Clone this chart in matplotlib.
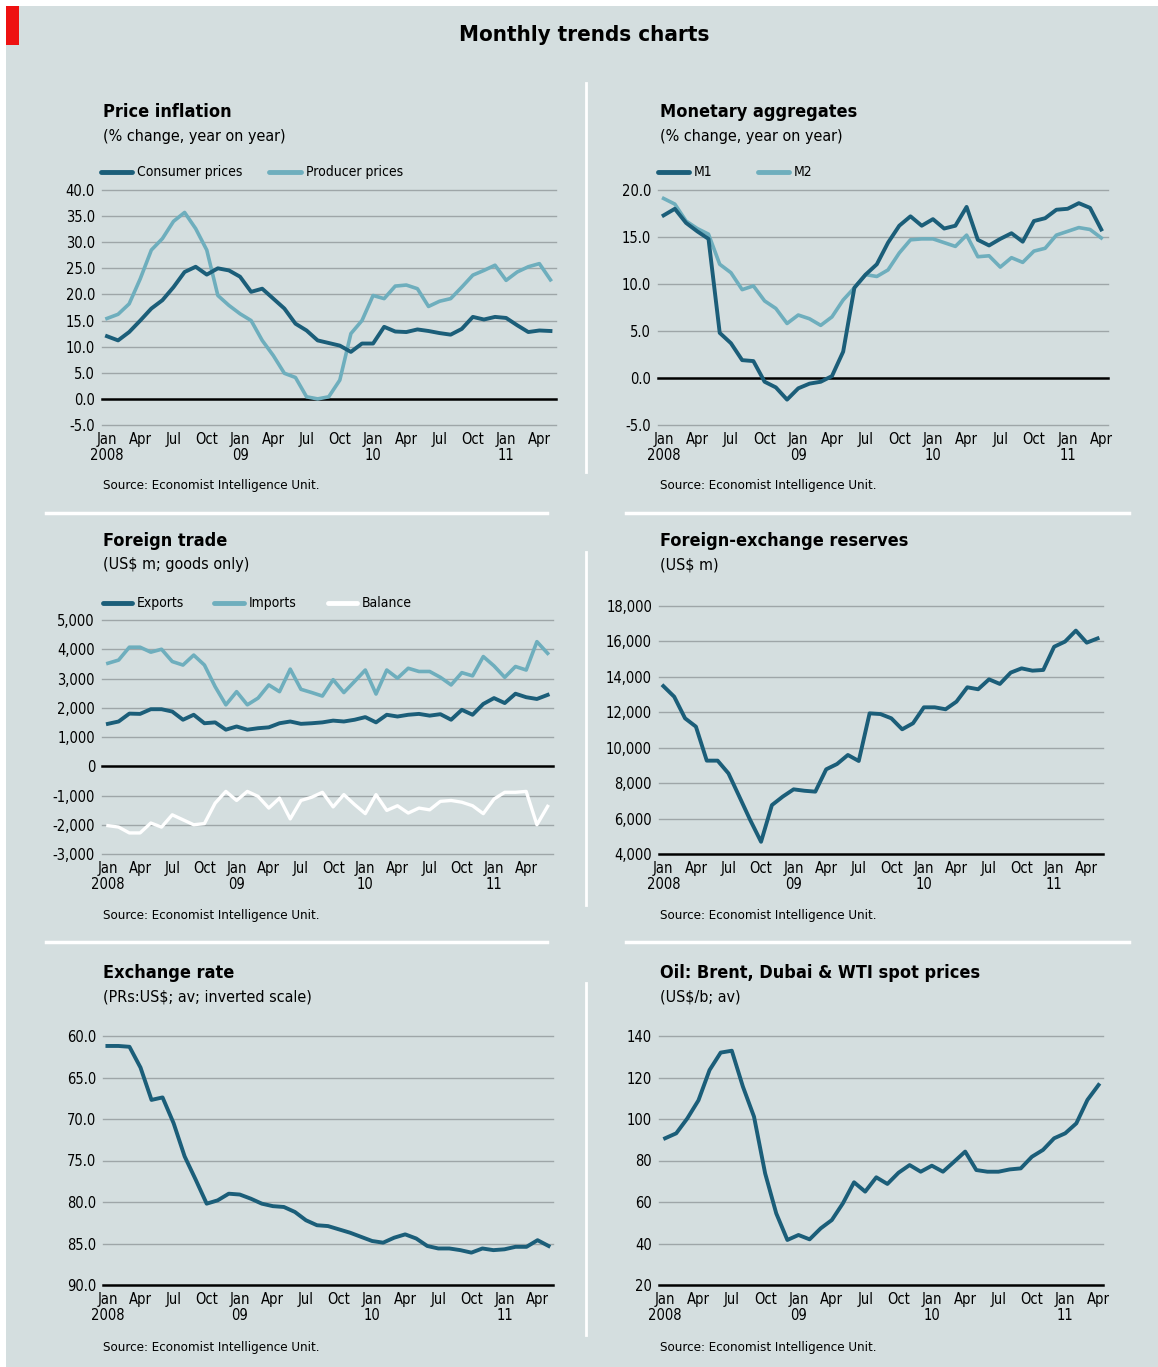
import matplotlib
matplotlib.use("Agg")
import matplotlib.pyplot as plt
from matplotlib.lines import Line2D
from matplotlib.patches import Rectangle
from matplotlib import font_manager

W, H = 1158, 1367

# ---- data (monthly, Jan 2008 onwards) ----
consumer_prices = [12.0, 11.2, 12.8, 15.0, 17.3, 18.9, 21.4, 24.3, 25.3, 23.8, 25.0, 24.6,
                   23.4, 20.5, 21.1, 19.2, 17.3, 14.4, 13.1, 11.2, 10.7, 10.2, 9.0, 10.6,
                   10.6, 13.8, 12.9, 12.8, 13.3, 13.0, 12.6, 12.3, 13.4, 15.7, 15.2, 15.7,
                   15.5, 14.1, 12.8, 13.1, 13.0]
producer_prices = [15.4, 16.2, 18.2, 23.0, 28.5, 30.7, 34.0, 35.7, 32.6, 28.5, 19.8, 17.9,
                   16.3, 15.0, 11.2, 8.3, 4.9, 4.1, 0.4, 0.0, 0.4, 3.6, 12.5, 15.0,
                   19.8, 19.2, 21.6, 21.8, 21.1, 17.7, 18.7, 19.2, 21.4, 23.7, 24.6, 25.6,
                   22.7, 24.3, 25.3, 25.9, 22.8]

m1 = [17.3, 18.0, 16.5, 15.6, 14.8, 4.8, 3.7, 1.9, 1.8, -0.4, -1.0, -2.3,
      -1.1, -0.6, -0.4, 0.2, 2.8, 9.6, 11.0, 12.1, 14.4, 16.2, 17.2, 16.2,
      16.9, 15.9, 16.2, 18.2, 14.7, 14.1, 14.8, 15.4, 14.5, 16.7, 17.0, 17.9,
      18.0, 18.6, 18.1, 15.8]
m2 = [19.1, 18.5, 16.7, 15.9, 15.3, 12.1, 11.2, 9.4, 9.8, 8.2, 7.4, 5.8,
      6.7, 6.3, 5.6, 6.5, 8.3, 9.6, 11.0, 10.8, 11.5, 13.3, 14.7, 14.8,
      14.8, 14.4, 14.0, 15.2, 12.9, 13.0, 11.8, 12.8, 12.3, 13.5, 13.8, 15.2,
      15.6, 16.0, 15.8, 14.9]

exports = [1450, 1530, 1800, 1790, 1950, 1950, 1870, 1590, 1760, 1470, 1500, 1250,
           1360, 1250, 1300, 1330, 1470, 1530, 1450, 1470, 1500, 1560, 1530, 1590,
           1680, 1500, 1760, 1700, 1760, 1790, 1730, 1780, 1590, 1930, 1760, 2130,
           2330, 2160, 2480, 2360, 2300, 2440]
imports = [3520, 3630, 4070, 4070, 3900, 4000, 3580, 3460, 3800, 3460, 2720, 2100,
           2550, 2100, 2330, 2780, 2550, 3320, 2630, 2520, 2400, 2960, 2520, 2900,
           3290, 2470, 3290, 3010, 3350, 3240, 3240, 3040, 2780, 3200, 3090, 3750,
           3430, 3040, 3410, 3290, 4260, 3860]
balance = [-2030, -2080, -2280, -2280, -1940, -2080, -1660, -1830, -2000, -1960, -1260, -860,
           -1170, -860, -1030, -1430, -1090, -1800, -1170, -1060, -890, -1390, -970, -1310,
           -1620, -970, -1510, -1350, -1600, -1430, -1490, -1200, -1170, -1230, -1350, -1620,
           -1120, -890, -890, -860, -2000, -1370]

reserves = [13480, 12880, 11660, 11190, 9270, 9270, 8550, 7240, 5920, 4690, 6760, 7240,
            7650, 7570, 7520, 8780, 9080, 9590, 9250, 11940, 11900, 11660, 11040, 11380,
            12280, 12280, 12170, 12600, 13410, 13300, 13860, 13600, 14240, 14480, 14350, 14390,
            15700, 15990, 16610, 15930, 16170]

exchange_rate = [61.2, 61.2, 61.3, 63.8, 67.7, 67.4, 70.5, 74.5, 77.3, 80.2, 79.8, 79.0,
                 79.1, 79.6, 80.2, 80.5, 80.6, 81.2, 82.2, 82.8, 82.9, 83.3, 83.7, 84.2,
                 84.7, 84.9, 84.3, 83.9, 84.4, 85.3, 85.6, 85.6, 85.8, 86.1, 85.6, 85.8,
                 85.7, 85.4, 85.4, 84.6, 85.3]

oil = [90.7, 93.1, 100.3, 109.0, 123.6, 132.0, 132.9, 115.6, 101.1, 73.8, 54.5, 41.7,
       44.1, 42.0, 47.3, 51.3, 59.4, 69.5, 65.0, 71.9, 68.7, 74.1, 77.8, 74.6,
       77.5, 74.6, 79.4, 84.3, 75.4, 74.6, 74.6, 75.7, 76.2, 81.8, 85.1, 90.7,
       93.1, 97.9, 109.2, 116.4]

tick_months = list(range(0, 40, 3))
tick_labels = ["Jan\n2008", "Apr", "Jul", "Oct", "Jan\n09", "Apr", "Jul", "Oct",
               "Jan\n10", "Apr", "Jul", "Oct", "Jan\n11", "Apr"]

DARK = "#1b5e79"
LIGHT = "#6eaebd"
BG = "#d4dedf"
GRID = "#9ea6a8"

# a condensed face is closer to the original type, use it when it exists
fonts = font_manager.fontManager.ttflist
condensed = any(f.name == "DejaVu Sans" and "condensed" in str(f.stretch) for f in fonts)
plt.rcParams["font.family"] = ["DejaVu Sans"]
if condensed:
    plt.rcParams["font.stretch"] = "condensed"
    k = 1.0
else:
    k = 0.9

fig = plt.figure(figsize=(W / 100, H / 100), dpi=100)
fig.patch.set_facecolor("white")


def fx(x):
    return x / W


def fy(y):
    return 1 - y / H


fig.add_artist(Rectangle((fx(6), 0), 1 - fx(6), fy(6), transform=fig.transFigure,
                         facecolor=BG, edgecolor="none", zorder=0))
fig.add_artist(Rectangle((fx(6), fy(45)), fx(19) - fx(6), fy(6) - fy(45),
                         transform=fig.transFigure, facecolor="#ee1111", edgecolor="none"))
fig.text(fx(584), fy(35), "Monthly trends charts", ha="center", va="center",
         fontsize=16 * k, fontweight="bold")

# dividers
for y0, y1 in [(83, 472), (552, 905), (983, 1335)]:
    fig.add_artist(Line2D([fx(586), fx(586)], [fy(y0), fy(y1)], transform=fig.transFigure,
                          color="white", lw=2))
for y in [513, 942]:
    fig.add_artist(Line2D([fx(46), fx(547)], [fy(y), fy(y)], transform=fig.transFigure,
                          color="white", lw=2.5))
    fig.add_artist(Line2D([fx(626), fx(1129)], [fy(y), fy(y)], transform=fig.transFigure,
                          color="white", lw=2.5))


def make_axes(x0, x1, y0, y1, xlim, ylim, yticks, ylabels, black_at):
    ax = fig.add_axes([fx(x0), fy(y1), (x1 - x0) / W, (y1 - y0) / H])
    ax.set_facecolor("none")
    for s in ax.spines.values():
        s.set_visible(False)
    ax.set_xlim(*xlim)
    ax.set_ylim(*ylim)
    ax.set_yticks(yticks)
    ax.set_yticklabels(ylabels)
    ax.set_xticks(tick_months)
    ax.set_xticklabels(tick_labels, linespacing=1.1)
    ax.tick_params(axis="both", length=0, labelsize=10.5 * k)
    ax.tick_params(axis="y", pad=5)
    ax.tick_params(axis="x", pad=5)
    for t in yticks:
        if t == black_at:
            ax.axhline(t, color="black", lw=1.8, zorder=2, clip_on=False)
        else:
            ax.axhline(t, color=GRID, lw=1.0, zorder=1, clip_on=False)
    return ax


def titles(x, y, title, sub, source_y):
    fig.text(fx(x), fy(y), title, ha="left", va="center", fontsize=13 * k, fontweight="bold")
    fig.text(fx(x), fy(y + 24), sub, ha="left", va="center", fontsize=11.5 * k)
    fig.text(fx(x), fy(source_y), "Source: Economist Intelligence Unit.", ha="left",
             va="center", fontsize=9.5 * k)


def legend(y, items):
    for x0, x1, color, label in items:
        fig.add_artist(Line2D([fx(x0), fx(x1)], [fy(y), fy(y)], transform=fig.transFigure,
                              color=color, lw=3.5, solid_capstyle="round"))
        fig.text(fx(x1 + 5), fy(y), label, ha="left", va="center", fontsize=10 * k)


# Price inflation
ticks = [40, 35, 30, 25, 20, 15, 10, 5, 0, -5]
ax = make_axes(102, 556, 190, 425, (-0.45, 40.5), (-5, 40), ticks,
               [f"{t:.1f}" for t in ticks], 0)
ax.plot(range(len(producer_prices)), producer_prices, color=LIGHT, lw=2.6, zorder=3)
ax.plot(range(len(consumer_prices)), consumer_prices, color=DARK, lw=2.8, zorder=4)
titles(103, 112, "Price inflation", "(% change, year on year)", 486)
legend(172, [(101, 132, DARK, "Consumer prices"), (269, 301, LIGHT, "Producer prices")])

# Monetary aggregates
ticks = [20, 15, 10, 5, 0, -5]
ax = make_axes(658, 1108, 190, 425, (-0.5, 39.6), (-5, 20), ticks,
               [f"{t:.1f}" for t in ticks], 0)
ax.plot(range(len(m2)), m2, color=LIGHT, lw=2.6, zorder=3)
ax.plot(range(len(m1)), m1, color=DARK, lw=2.8, zorder=4)
titles(660, 112, "Monetary aggregates", "(% change, year on year)", 486)
legend(172, [(658, 689, DARK, "M1"), (758, 789, LIGHT, "M2")])

# Foreign trade
ticks = [5000, 4000, 3000, 2000, 1000, 0, -1000, -2000, -3000]
ax = make_axes(102, 553, 620, 854, (-0.55, 41.5), (-3000, 5000), ticks,
               [f"{t:,}" for t in ticks], 0)
ax.plot(range(len(imports)), imports, color=LIGHT, lw=2.6, zorder=3)
ax.plot(range(len(exports)), exports, color=DARK, lw=2.8, zorder=4)
ax.plot(range(len(balance)), balance, color="white", lw=2.4, zorder=3)
titles(103, 541, "Foreign trade", "(US$ m; goods only)", 915)
legend(603, [(103, 132, DARK, "Exports"), (214, 244, LIGHT, "Imports"),
             (328, 357, "white", "Balance")])

# Foreign-exchange reserves
ticks = [18000, 16000, 14000, 12000, 10000, 8000, 6000, 4000]
ax = make_axes(659, 1103, 606, 854, (-0.4, 40.5), (4000, 18000), ticks,
               [f"{t:,}" for t in ticks], 4000)
ax.plot(range(len(reserves)), reserves, color=DARK, lw=2.8, zorder=4)
titles(660, 541, "Foreign-exchange reserves", "(US$ m)", 915)

# Exchange rate (inverted)
ticks = [60, 65, 70, 75, 80, 85, 90]
ax = make_axes(103, 553, 1036, 1285, (-0.4, 40.4), (90, 60), ticks,
               [f"{t:.1f}" for t in ticks], 90)
ax.plot(range(len(exchange_rate)), exchange_rate, color=DARK, lw=2.8, zorder=4)
titles(103, 973, "Exchange rate", "(PRs:US$; av; inverted scale)", 1348)

# Oil
ticks = [140, 120, 100, 80, 60, 40, 20]
ax = make_axes(659, 1103, 1036, 1285, (-0.55, 39.4), (20, 140), ticks,
               [str(t) for t in ticks], 20)
ax.plot(range(len(oil)), oil, color=DARK, lw=2.8, zorder=4)
titles(660, 973, "Oil: Brent, Dubai & WTI spot prices", "(US$/b; av)", 1348)

fig.savefig("out.png", dpi=100, facecolor=fig.get_facecolor())
